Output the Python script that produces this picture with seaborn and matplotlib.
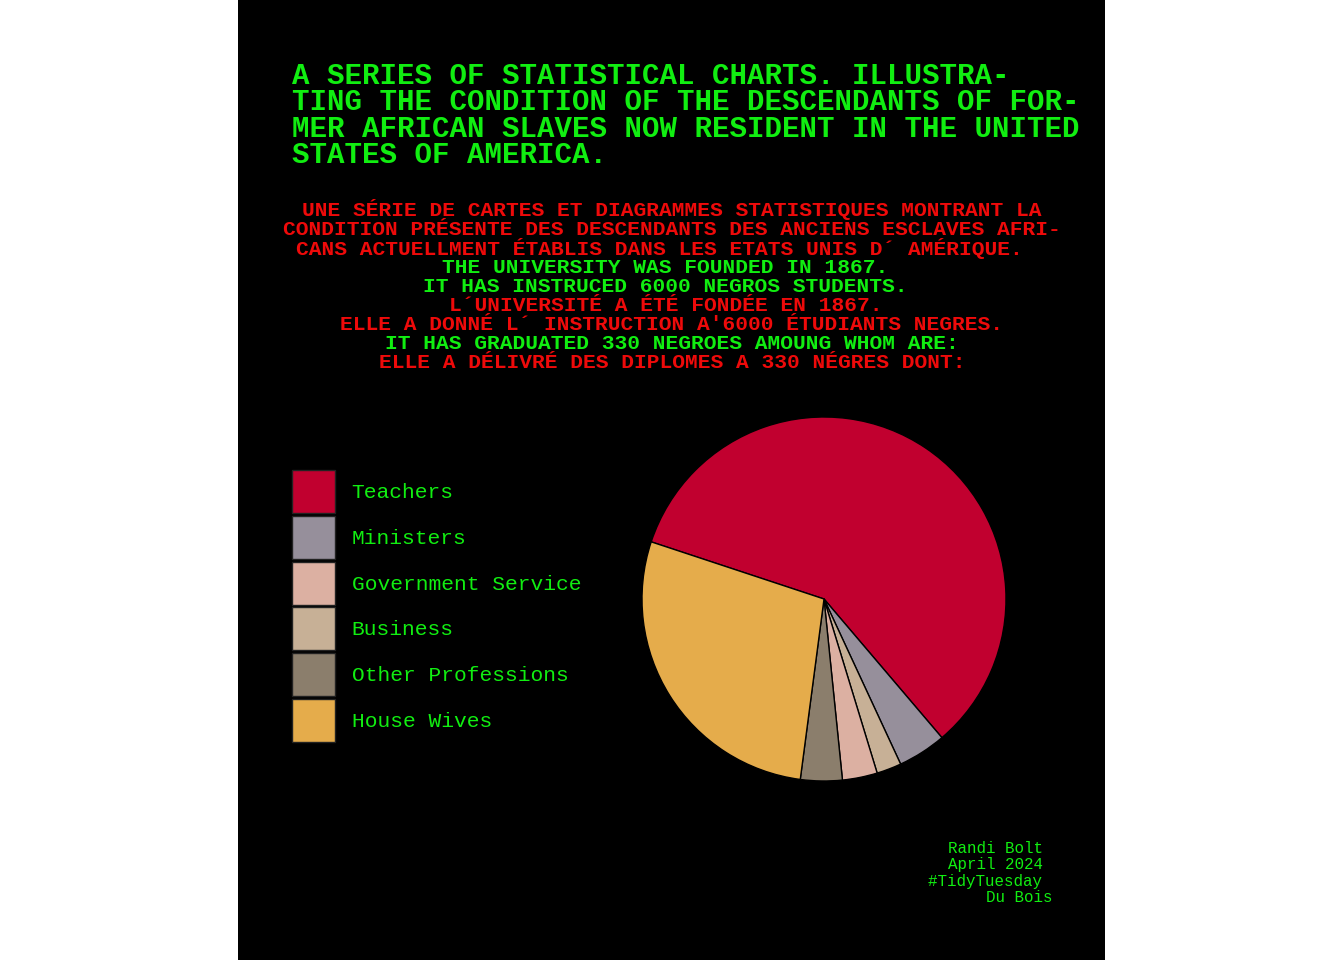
"""
Du Bois style pie chart: occupations of Atlanta University graduates.
"""

import matplotlib
matplotlib.use("Agg")
import matplotlib.pyplot as plt
from matplotlib.patches import Patch
import seaborn as sns

# Data (percent of 330 graduates), in the order the pie is drawn clockwise
pie_labels = ['Teachers', 'Ministers', 'Business', 'Government Service',
              'Other Professions', 'House Wives']
pie_values = [58.7, 4.3, 2.2, 3.1, 3.7, 28.0]

# Legend order
legend_labels = ['Teachers', 'Ministers', 'Government Service', 'Business',
                 'Other Professions', 'House Wives']

occupation_colors = {
    'Teachers': '#c1002f',
    'Ministers': '#968f9b',
    'Government Service': '#dcb0a2',
    'Business': '#c7b096',
    'Other Professions': '#8b7e6c',
    'House Wives': '#e5ac4b',
}

title_lines = [
    "A SERIES OF STATISTICAL CHARTS. ILLUSTRA-",
    "TING THE CONDITION OF THE DESCENDANTS OF FOR-",
    "MER AFRICAN SLAVES NOW RESIDENT IN THE UNITED",
    "STATES OF AMERICA.",
]

subtitle_lines = [
    ("UNE SÉRIE DE CARTES ET DIAGRAMMES STATISTIQUES MONTRANT LA", 'red'),
    ("CONDITION PRÉSENTE DES DESCENDANTS DES ANCIENS ESCLAVES AFRI-", 'red'),
    ("CANS ACTUELLMENT ÉTABLIS DANS LES ETATS UNIS D´ AMÉRIQUE.  ", 'red'),
    ("THE UNIVERSITY WAS FOUNDED IN 1867. ", 'green'),
    ("IT HAS INSTRUCED 6000 NEGROS STUDENTS. ", 'green'),
    ("L´UNIVERSITÉ A ÉTÉ FONDÉE EN 1867. ", 'red'),
    ("ELLE A DONNÉ L´ INSTRUCTION A'6000 ÉTUDIANTS NEGRES.", 'red'),
    ("IT HAS GRADUATED 330 NEGROES AMOUNG WHOM ARE:", 'green'),
    ("ELLE A DÉLIVRÉ DES DIPLOMES A 330 NÉGRES DONT:", 'red'),
]

caption = "Randi Bolt \nApril 2024 \n#TidyTuesday \nDu Bois"

GREEN = '#11ee11'
RED = '#ee0a0a'
text_colors = {'green': GREEN, 'red': RED}

W, H = 1344, 960

sns.set_style('white')
plt.rcParams['font.family'] = ['Liberation Mono', 'DejaVu Sans Mono']

fig = plt.figure(figsize=(W / 100, H / 100), dpi=100, facecolor='white')

# Black panel
bg = fig.add_axes([238 / W, 0, 867 / W, 1])
bg.set_facecolor('black')
bg.set_xticks([])
bg.set_yticks([])
for s in bg.spines.values():
    s.set_visible(False)

# Title
for i, line in enumerate(title_lines):
    fig.text(292 / W, 1 - (76 + i * 26.4) / H, line, color=GREEN,
             fontsize=21, fontweight='bold', ha='left', va='center')

# Subtitle block
for i, (line, col) in enumerate(subtitle_lines):
    fig.text(672 / W, 1 - (210 + i * 19.1) / H, line, color=text_colors[col],
             fontsize=15.3, fontweight='bold', ha='center', va='center')

# Pie
r_px = 182
pad = 1.1
cx, cy = 824, 599
size = 2 * r_px * pad
ax = fig.add_axes([(cx - size / 2) / W, 1 - (cy + size / 2) / H, size / W, size / H])
ax.set_facecolor('none')
wedges, _ = ax.pie(pie_values, colors=[occupation_colors[l] for l in pie_labels],
                   startangle=161.7, counterclock=False,
                   wedgeprops={'edgecolor': 'black', 'linewidth': 1.0})
ax.set_xlim(-pad, pad)
ax.set_ylim(-pad, pad)
ax.set_aspect('equal')
ax.axis('off')

# Legend
handles = [Patch(facecolor=occupation_colors[l], edgecolor='#222222', linewidth=1.0)
           for l in legend_labels]
fs = 15.3
fig.legend(handles, legend_labels, loc='upper left',
           bbox_to_anchor=(292 / W, 1 - 470 / H), frameon=False,
           fontsize=fs, labelcolor=GREEN, handlelength=2.02, handleheight=2.74,
           handletextpad=0.78, labelspacing=0.13, borderpad=0, borderaxespad=0)

# Caption
fig.text(1052 / W, 1 - 873 / H, caption, color=GREEN, fontsize=11.4,
         ha='right', va='center', linespacing=1.1, multialignment='right')

fig.savefig('out.png', dpi=100, facecolor='white')
print("[OK] Saved out.png")
